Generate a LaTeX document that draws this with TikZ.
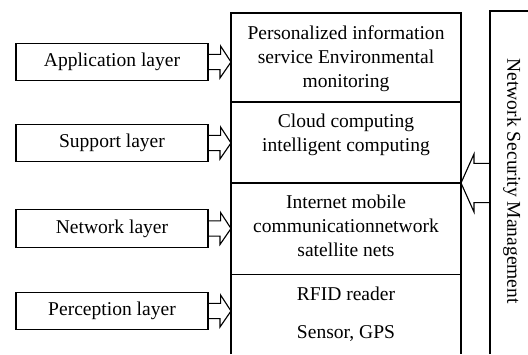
\documentclass[tikz,border=0pt]{standalone}
\usepackage{fontspec}
\setmainfont{Liberation Serif}

\begin{document}
\begin{tikzpicture}[
  layerbox/.style={draw=black,line width=0.8pt,minimum width=4.8cm,minimum height=0.93cm,inner sep=0pt},
  celltext/.style={align=center,inner sep=0pt},
  frame/.style={black,solid,line width=0.8pt},
  hollow/.style={black,line width=0.8pt,line join=miter},
  font=\fontsize{13.9}{17}\selectfont
]
\useasboundingbox (0,0) rectangle (13.2,8.85);
% Middle column (open at the bottom)
\coordinate (colTL) at (5.775,8.525);
\coordinate (colTR) at (11.525,8.525);
\coordinate (colBL) at (5.775,0);
\coordinate (colBR) at (11.525,0);
\draw[frame] (colBL)--(colTL)--(colTR)--(colBR);
% Dividers
\coordinate (divA) at (5.775,6.3);
\coordinate (divB) at (5.775,4.275);
\coordinate (divC) at (5.775,1.99);
\draw[frame] (divA)--(divA -| colTR);
\draw[frame] (divB)--(divB -| colTR);
\draw[frame] (divC)--(divC -| colTR);
% Management column on the right
\coordinate (nsmTL) at (12.25,8.575);
\draw[frame] (12.25,0)--(nsmTL)--(13.2,8.575);
\node[rotate=-90] (nsm) at (12.8,4.32) {Network Security Management};
% Layer boxes
\node[layerbox] (app) at (2.8,7.3) {Application layer};
\node[layerbox] (sup) at (2.8,5.275) {Support layer};
\node[layerbox] (net) at (2.8,3.1375) {Network layer};
\node[layerbox] (per) at (2.8,1.075) {Perception layer};
% Cell contents
\node[celltext] (pis) at (8.65,7.375) {Personalized information\\service Environmental\\monitoring};
\node[celltext] (cloud) at (8.65,5.49) {Cloud computing\\intelligent computing};
\node[celltext] (inet) at (8.65,3.2) {Internet mobile\\communicationnetwork\\satellite nets};
\node[celltext] (rfid) at (8.65,1.0) {RFID reader\\[0.35cm]Sensor, GPS};
% Hollow arrows into the column
\draw[hollow] (app.east) ++(0,0.19) -- ++(0.3,0) -- ++(0,0.21) -- (app.east -| colTL) -- ++(-0.275,-0.4) -- ++(0,0.21) -- ++(-0.3,0);
\draw[hollow] (sup.east) ++(0,0.19) -- ++(0.3,0) -- ++(0,0.21) -- (sup.east -| colTL) -- ++(-0.275,-0.4) -- ++(0,0.21) -- ++(-0.3,0);
\draw[hollow] (net.east) ++(0,0.19) -- ++(0.3,0) -- ++(0,0.21) -- (net.east -| colTL) -- ++(-0.275,-0.4) -- ++(0,0.21) -- ++(-0.3,0);
\draw[hollow] (per.east) ++(0,0.19) -- ++(0.3,0) -- ++(0,0.21) -- (per.east -| colTL) -- ++(-0.275,-0.4) -- ++(0,0.21) -- ++(-0.3,0);
% Arrow from the management column
\coordinate (divR) at (divB -| colTR);
\draw[hollow] (divB -| nsmTL) ++(0,0.49) -- ++(-0.4,0) -- ++(0,0.235) -- (divR) -- ++(0.325,-0.725) -- ++(0,0.235) -- ++(0.4,0);
\end{tikzpicture}
\end{document}
